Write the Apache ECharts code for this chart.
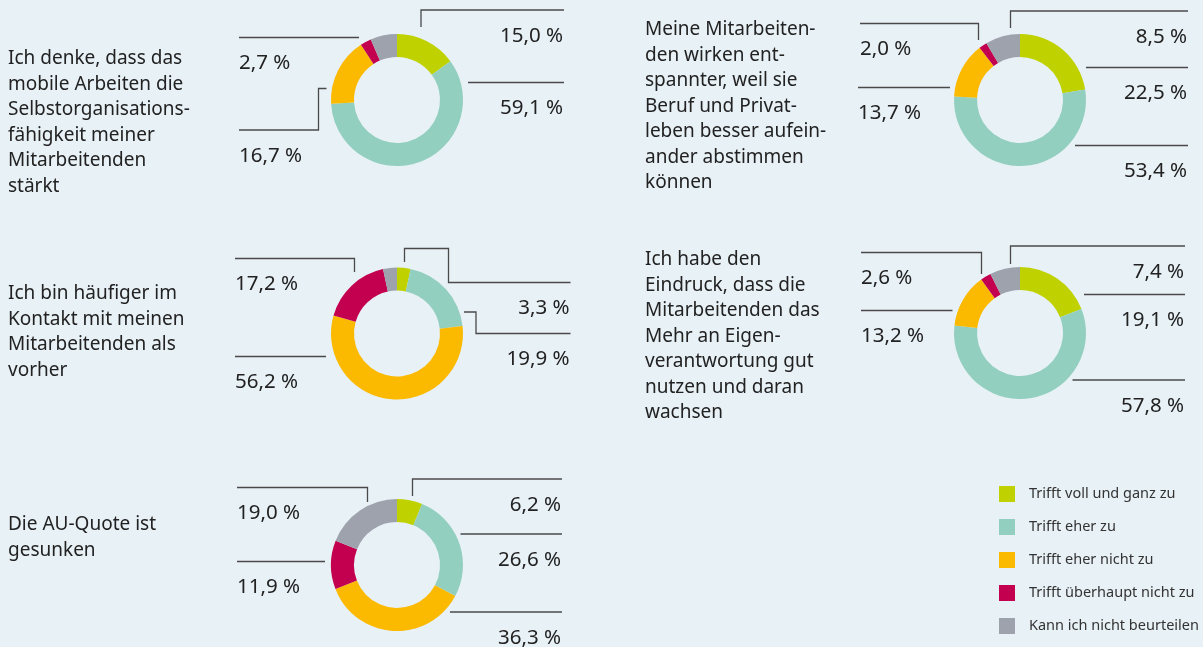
<!DOCTYPE html>
<html>
<head>
<meta charset="utf-8">
<title>Mobiles Arbeiten - Einschätzung der Führungskräfte</title>
<script src="https://cdn.jsdelivr.net/npm/echarts@6/dist/echarts.min.js"></script>
<style>
	html, body {
		margin: 0;
		padding: 0;
		background: #e8f1f6;
	}
	#chart {
		width: 1203px;
		height: 647px;
	}
</style>
</head>
<body>
<div id="chart"></div>
<script>
// Antwortkategorien (Reihenfolge im Uhrzeigersinn ab 12 Uhr)
const categories = [
	"Trifft voll und ganz zu",
	"Trifft eher zu",
	"Trifft eher nicht zu",
	"Trifft überhaupt nicht zu",
	"Kann ich nicht beurteilen",
];

// Werte in Prozent, je Aussage
const valuesSelbstorganisation = [15.0, 59.1, 16.7, 2.7, 6.5];
const valuesKontakt = [3.3, 19.9, 56.2, 17.2, 3.4];
const valuesAuQuote = [6.2, 26.6, 36.3, 11.9, 19.0];
const valuesEntspannt = [22.5, 53.4, 13.7, 2.0, 8.5];
const valuesEigenverantwortung = [19.1, 57.8, 13.2, 2.6, 7.4];

// Aussagen
const questions = [
	"Ich denke, dass das\nmobile Arbeiten die\nSelbstorganisations-\nfähigkeit meiner\nMitarbeitenden\nstärkt",
	"Ich bin häufiger im\nKontakt mit meinen\nMitarbeitenden als\nvorher",
	"Die AU-Quote ist\ngesunken",
	"Meine Mitarbeiten-\nden wirken ent-\nspannter, weil sie\nBeruf und Privat-\nleben besser aufein-\nander abstimmen\nkönnen",
	"Ich habe den\nEindruck, dass die\nMitarbeitenden das\nMehr an Eigen-\nverantwortung gut\nnutzen und daran\nwachsen",
];

const colors = ["#bfd200", "#92cfbf", "#fbb900", "#c3004f", "#9ea2ad"];
const FONT = "Noto Sans";

// Layout: Mittelpunkt, Titelposition und Führungslinien (vom Ring zum Label)
const panels = [
	{
		values: valuesSelbstorganisation,
		center: [397, 100],
		title: [8, 46],
		leaders: [
			[[421, 27], [421, 10], [564, 10]],
			[[468, 82.5], [564, 82.5]],
			[[326.5, 88.5], [318.5, 88.5], [318.5, 130], [239, 130]],
			[[359, 37.5], [239, 37.5]],
			null,
		],
	},
	{
		values: valuesKontakt,
		center: [397, 333.5],
		title: [8, 281],
		leaders: [
			[[404.5, 262], [404.5, 248.5], [448.5, 248.5], [448.5, 282.5], [570.5, 282.5]],
			[[464, 312], [476, 312], [476, 333.5], [570.5, 333.5]],
			[[326, 356.5], [235, 356.5]],
			[[354.5, 272], [354.5, 258.5], [235, 258.5]],
			null,
		],
	},
	{
		values: valuesAuQuote,
		center: [397, 565],
		title: [8, 512],
		leaders: [
			[[412.5, 496], [412.5, 479], [562, 479]],
			[[460.5, 534], [562, 534]],
			[[450, 612], [562, 612]],
			[[325, 561.5], [237, 561.5]],
			[[367.5, 502], [367.5, 487.5], [237, 487.5]],
		],
	},
	{
		values: valuesEntspannt,
		center: [1020, 100],
		title: [645, 17],
		leaders: [
			[[1086, 67.5], [1188, 67.5]],
			[[1075, 145.5], [1188, 145.5]],
			[[950, 87.5], [858, 87.5]],
			[[978.5, 40], [978.5, 23.5], [860, 23.5]],
			[[1010.5, 28], [1010.5, 11], [1188, 11]],
		],
	},
	{
		values: valuesEigenverantwortung,
		center: [1020, 333],
		title: [645, 247],
		leaders: [
			[[1084, 294.5], [1185, 294.5]],
			[[1072.5, 380], [1185, 380]],
			[[952.5, 310.5], [861, 310.5]],
			[[981.5, 274], [981.5, 252.5], [861, 252.5]],
			[[1010.5, 264], [1010.5, 246], [1185, 246]],
		],
	},
];

function formatPercent(v) {
	return v.toFixed(1).replace(".", ",") + " %";
}

const chart = echarts.init(document.getElementById("chart"));

const option = {
	backgroundColor: "#e8f1f6",
	animation: false,
	textStyle: { fontFamily: FONT },
	title: panels.map((p, i) => ({
		text: questions[i],
		left: p.title[0],
		top: p.title[1],
		padding: 0,
		textStyle: {
			fontFamily: FONT,
			fontSize: 19,
			fontWeight: "normal",
			color: "#222",
			lineHeight: 25.5,
		},
	})),
	legend: {
		orient: "vertical",
		left: 999,
		top: 486,
		padding: 0,
		itemWidth: 16,
		itemHeight: 16,
		itemGap: 17,
		icon: "rect",
		selectedMode: false,
		data: categories,
		textStyle: {
			fontFamily: FONT,
			fontSize: 14.5,
			color: "#333",
			padding: [0, 0, 0, 9],
		},
	},
	series: panels.map((p) => ({
		type: "pie",
		center: p.center,
		radius: [43, 66],
		startAngle: 90,
		clockwise: true,
		avoidLabelOverlap: false,
		silent: true,
		data: p.values.map((v, k) => ({
			name: categories[k],
			value: v,
			itemStyle: { color: colors[k] },
			label: { show: !!p.leaders[k] },
			labelLine: { show: !!p.leaders[k] },
		})),
		label: {
			position: "outside",
			formatter: (params) => formatPercent(params.value),
			fontFamily: FONT,
			fontSize: 20.5,
			color: "#222",
		},
		labelLine: {
			show: true,
			lineStyle: { color: "#4a4a4a", width: 1.3 },
		},
		labelLayout: (params) => {
			const pts = p.leaders[params.dataIndex];
			if (!pts) return {};
			const end = pts[pts.length - 1];
			const right = end[0] > p.center[0];
			return {
				x: right ? end[0] - 1 : end[0],
				y: end[1] + 26,
				align: right ? "right" : "left",
				verticalAlign: "middle",
				labelLinePoints: pts,
			};
		},
		emphasis: { disabled: true },
	})),
};

chart.setOption(option);
</script>
</body>
</html>
